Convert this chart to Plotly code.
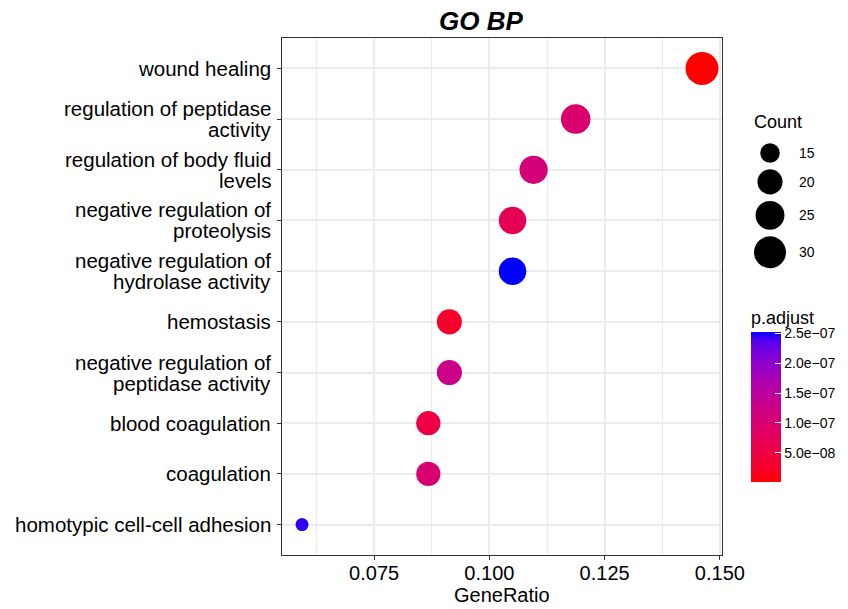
import plotly.graph_objects as go

# ---------------- data ----------------
terms = [
    "wound healing",
    "regulation of peptidase<br>activity",
    "regulation of body fluid<br>levels",
    "negative regulation of<br>proteolysis",
    "negative regulation of<br>hydrolase activity",
    "hemostasis",
    "negative regulation of<br>peptidase activity",
    "blood coagulation",
    "coagulation",
    "homotypic cell-cell adhesion",
]
counts = [32, 26, 24, 23, 23, 20, 20, 19, 19, 13]
set_size = 219
gene_ratio = [c / set_size for c in counts]
p_adjust = [1.2e-9, 9.5e-8, 1.08e-7, 7.0e-8, 2.52e-7, 2.6e-8, 1.27e-7, 5.0e-8, 1.0e-7, 2.45e-7]

size_legend_values = [15, 20, 25, 30]
cbar_tickvals = [5.0e-8, 1.0e-7, 1.5e-7, 2.0e-7, 2.5e-7]
cbar_ticktext = ["5.0e\u221208", "1.0e\u221207", "1.5e\u221207", "2.0e\u221207", "2.5e\u221207"]
x_tickvals = [0.075, 0.100, 0.125, 0.150]
x_ticktext = ["0.075", "0.100", "0.125", "0.150"]

# ---------------- style helpers ----------------
FONT = "Liberation Sans, Arial, Helvetica, sans-serif"
D_MIN, D_MAX = 13.0, 33.0
cmin_c, cmax_c = min(counts), max(counts)


def diam(c):
    return D_MIN + (D_MAX - D_MIN) * ((c - cmin_c) / (cmax_c - cmin_c)) ** 0.5


def _lin(c):
    c = c / 255.0
    return c / 12.92 if c <= 0.04045 else ((c + 0.055) / 1.055) ** 2.4


def _unlin(c):
    c = 12.92 * c if c <= 0.0031308 else 1.055 * c ** (1 / 2.4) - 0.055
    return max(0, min(255, round(c * 255)))


WX, WY, WZ = 0.95047, 1.0, 1.08883


def rgb2lab(rgb):
    r, g, b = [_lin(v) for v in rgb]
    x = 0.4124 * r + 0.3576 * g + 0.1805 * b
    y = 0.2126 * r + 0.7152 * g + 0.0722 * b
    z = 0.0193 * r + 0.1192 * g + 0.9505 * b
    f = lambda t: t ** (1 / 3) if t > 0.008856 else 7.787 * t + 16 / 116
    fx, fy, fz = f(x / WX), f(y / WY), f(z / WZ)
    return 116 * fy - 16, 500 * (fx - fy), 200 * (fy - fz)


def lab2rgb(lab):
    L, a, bb = lab
    fy = (L + 16) / 116
    fx = fy + a / 500
    fz = fy - bb / 200
    finv = lambda t: t ** 3 if t ** 3 > 0.008856 else (t - 16 / 116) / 7.787
    x, y, z = WX * finv(fx), WY * finv(fy), WZ * finv(fz)
    r = 3.2406 * x - 1.5372 * y - 0.4986 * z
    g = -0.9689 * x + 1.8758 * y + 0.0415 * z
    b = 0.0557 * x - 0.2040 * y + 1.0570 * z
    return tuple(_unlin(max(0.0, v)) for v in (r, g, b))


lo, hi = rgb2lab((255, 0, 0)), rgb2lab((0, 0, 255))
N = 24
colorscale = []
for i in range(N + 1):
    t = i / N
    lab = tuple(lo[k] + (hi[k] - lo[k]) * t for k in range(3))
    r, g, b = lab2rgb(lab)
    colorscale.append([t, f"rgb({r},{g},{b})"])

# ---------------- layout geometry ----------------
W, H = 848, 609
ML, MR, MT, MB = 282, 8, 38, 54
PW, PH = W - ML - MR, H - MT - MB
PANEL_W = 440


def px_x(p):
    return (p - ML) / PW


def px_y(p):
    return (H - MB - p) / PH


span = max(gene_ratio) - min(gene_ratio)
xr = [min(gene_ratio) - 0.05 * span, max(gene_ratio) + 0.05 * span]

fig = go.Figure()

fig.add_trace(go.Scatter(
    x=gene_ratio, y=terms, mode="markers",
    marker=dict(
        size=[diam(c) for c in counts],
        color=p_adjust,
        colorscale=colorscale,
        cmin=min(p_adjust), cmax=max(p_adjust),
        line=dict(width=0),
        opacity=1,
        colorbar=dict(
            title=dict(text="p.adjust", side="top", font=dict(size=18, family=FONT, color="black")),
            x=px_x(751), xanchor="left", xpad=0,
            y=px_y(482), yanchor="bottom", ypad=0,
            len=175, lenmode="pixels", thickness=30,
            outlinewidth=0,
            tickvals=cbar_tickvals, ticktext=cbar_ticktext,
            ticks="inside", ticklen=6, tickwidth=1.2, tickcolor="white",
            tickfont=dict(size=14, family=FONT, color="black"),
        ),
    ),
    showlegend=False, hoverinfo="x+y",
))

# size legend (drawn on auxiliary axes in pixel units)
leg_d = [diam(v) for v in size_legend_values]
leg_y = []
cur = 153.0
for i, d in enumerate(leg_d):
    if i > 0:
        cur += (leg_d[i - 1] + d) / 2 + 6.5
    leg_y.append(cur)

fig.add_trace(go.Scatter(
    x=[770] * len(size_legend_values), y=leg_y, mode="markers",
    marker=dict(size=leg_d, color="black", opacity=1, line=dict(width=0)),
    xaxis="x2", yaxis="y2", showlegend=False, hoverinfo="skip",
))

annotations = [dict(
    x=px_x(752), y=px_y(122), xref="paper", yref="paper",
    text="Count", showarrow=False, xanchor="left", yanchor="middle",
    font=dict(size=18, family=FONT, color="black"),
), dict(
    x=px_x(502), y=px_y(595), xref="paper", yref="paper",
    text="GeneRatio", showarrow=False, xanchor="center", yanchor="middle",
    font=dict(size=20, family=FONT, color="black"),
)]
for v, yy in zip(size_legend_values, leg_y):
    annotations.append(dict(
        x=797, y=yy, xref="x2", yref="y2", text=str(v), showarrow=False,
        xanchor="left", yanchor="middle", font=dict(size=14, family=FONT, color="black"),
    ))

# y-axis labels as per-line annotations (tighter line spacing like ggplot)
LINE_GAP = 21
for term in terms:
    lines = term.split("<br>")
    n = len(lines)
    for k, line in enumerate(lines):
        annotations.append(dict(
            x=0, y=term, xref="paper", yref="y", text=line, showarrow=False,
            xanchor="right", yanchor="middle", xshift=-9,
            yshift=((n - 1) / 2 - k) * LINE_GAP,
            font=dict(size=20.5, family=FONT, color="black"),
        ))

fig.update_layout(
    width=W, height=H,
    margin=dict(l=ML, r=MR, t=MT, b=MB, autoexpand=False),
    paper_bgcolor="white", plot_bgcolor="white",
    font=dict(family=FONT, color="black"),
    title=dict(
        text="<b><i>GO BP</i></b>", x=px_x(481), xref="paper", xanchor="center",
        y=1 - 21 / H, yref="container", yanchor="middle",
        font=dict(size=26, family=FONT, color="black"),
    ),
    xaxis=dict(
        domain=[0, PANEL_W / PW], range=xr,
        tickvals=x_tickvals, ticktext=x_ticktext,
        ticks="outside", ticklen=4, tickcolor="#333333", tickwidth=1,
        ticklabelstandoff=-4,
        tickfont=dict(size=20, family=FONT, color="black"),
        showgrid=True, gridcolor="#EBEBEB", gridwidth=1.5,
        minor=dict(dtick=0.0125, tick0=0.0625, showgrid=True, gridcolor="#EBEBEB", gridwidth=1, ticks=""),
        showline=True, linecolor="#333333", linewidth=1.2, mirror=True,
        zeroline=False,
    ),
    yaxis=dict(
        domain=[0, 1],
        categoryorder="array", categoryarray=terms[::-1],
        range=[-0.6, len(terms) - 0.4],
        ticks="outside", ticklen=4, tickcolor="#333333", tickwidth=1,
        showticklabels=False,
        showgrid=True, gridcolor="#EBEBEB", gridwidth=1.5,
        showline=True, linecolor="#333333", linewidth=1.2, mirror=True,
        zeroline=False,
    ),
    xaxis2=dict(
        domain=[px_x(745), px_x(840)], range=[745, 840], anchor="y2",
        visible=False, fixedrange=True,
    ),
    yaxis2=dict(
        domain=[px_y(280), px_y(100)], range=[280, 100], anchor="x2",
        visible=False, fixedrange=True,
    ),
    annotations=annotations,
)

fig.write_html(
    "out.html",
    config={"displayModeBar": False},
    post_script="document.body.style.margin='0';document.body.style.overflow='hidden';",
)
